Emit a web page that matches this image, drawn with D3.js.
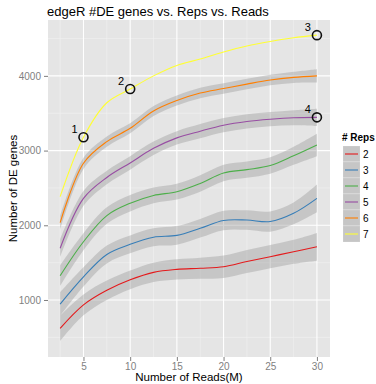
<!DOCTYPE html>
<html><head><meta charset="utf-8">
<script src="https://cdn.jsdelivr.net/npm/d3@7"></script>
<style>body{margin:0;background:#fff}svg{display:block}text{font-family:"Liberation Sans",Arial,sans-serif}</style>
</head><body>
<svg id="c" width="376" height="384"></svg>
<script>
const reads = [2.5, 5, 7.5, 10, 12.5, 15, 17.5, 20, 22.5, 25, 27.5, 30];
const reps = ["2", "3", "4", "5", "6", "7"];
const rep2 = [621, 935, 1130, 1270, 1370, 1410, 1425, 1445, 1515, 1580, 1645, 1712];
const rep3 = [946, 1310, 1610, 1745, 1840, 1865, 1960, 2065, 2070, 2050, 2160, 2360];
const rep4 = [1325, 1780, 2130, 2295, 2400, 2450, 2560, 2700, 2745, 2800, 2930, 3075];
const rep5 = [1692, 2360, 2640, 2835, 3030, 3170, 3260, 3340, 3390, 3420, 3440, 3445];
const rep6 = [2035, 2830, 3120, 3298, 3530, 3670, 3770, 3830, 3890, 3945, 3980, 4000];
const rep7 = [2383, 3178, 3640, 3824, 4000, 4140, 4225, 4320, 4400, 4460, 4510, 4545];
const se2 = [170, 140, 130, 125, 130, 135, 140, 150, 155, 155, 160, 185];
const se3 = [160, 130, 120, 120, 120, 125, 125, 130, 130, 135, 145, 185];
const se4 = [140, 115, 110, 110, 105, 105, 110, 110, 110, 110, 120, 150];
const se5 = [120, 100, 90, 90, 90, 90, 95, 95, 95, 95, 100, 115];
const se6 = [90, 75, 70, 67, 67, 67, 70, 70, 70, 70, 75, 90];
const se7 = [0, 0, 0, 0, 0, 0, 0, 0, 0, 0, 0, 0];
const yTicks = [1000, 2000, 3000, 4000];
const yMinor = [500, 1500, 2500, 3500, 4500];
const xTicks = [5, 10, 15, 20, 25, 30];
const xMinor = [2.5, 7.5, 12.5, 17.5, 22.5, 27.5];
const marks = [{label: "1", x: 5, rep: "7"}, {label: "2", x: 10, rep: "7"}, {label: "3", x: 30, rep: "7"}, {label: "4", x: 30, rep: "5"}];
const colors = ["#e41a1c", "#377eb8", "#4daf4a", "#984ea3", "#ff7f00", "#ffff33"];

const vals = [rep2, rep3, rep4, rep5, rep6, rep7];
const ses = [se2, se3, se4, se5, se6, se7];
const series = reps.map((r, i) => ({rep: r, color: colors[i],
  pts: reads.map((x, j) => ({x, y: vals[i][j], se: ses[i][j]}))}));

const svg = d3.select("#c");
const L = 48, R = 330, T = 20, B = 357;
const x = d3.scaleLinear().domain([1.2, 31.4]).range([L, R]);
const y = d3.scaleLinear().domain([237, 4748]).range([B, T]);

svg.append("text").attr("x", 47).attr("y", 16).attr("font-size", 13).attr("fill", "#000")
  .text("edgeR #DE genes vs. Reps vs. Reads");

svg.append("rect").attr("x", L).attr("y", T).attr("width", R - L).attr("height", B - T).attr("fill", "#e5e5e5");
const g = svg.append("g");
g.selectAll(".ymin").data(yMinor).join("line").attr("x1", L).attr("x2", R)
  .attr("y1", d => y(d)).attr("y2", d => y(d)).attr("stroke", "#f2f2f2").attr("stroke-width", 0.6);
g.selectAll(".xmin").data(xMinor).join("line").attr("y1", T).attr("y2", B)
  .attr("x1", d => x(d)).attr("x2", d => x(d)).attr("stroke", "#f2f2f2").attr("stroke-width", 0.6);
g.selectAll(".ymaj").data(yTicks).join("line").attr("x1", L).attr("x2", R)
  .attr("y1", d => y(d)).attr("y2", d => y(d)).attr("stroke", "#fff").attr("stroke-width", 1.1);
g.selectAll(".xmaj").data(xTicks).join("line").attr("y1", T).attr("y2", B)
  .attr("x1", d => x(d)).attr("x2", d => x(d)).attr("stroke", "#fff").attr("stroke-width", 1.1);

const curve = d3.curveCatmullRom.alpha(0.5);
const area = d3.area().x(d => x(d.x)).y0(d => y(d.y - d.se)).y1(d => y(d.y + d.se)).curve(curve);
const line = d3.line().x(d => x(d.x)).y(d => y(d.y)).curve(curve);
const plot = svg.append("g");
series.forEach(s => {
  if (d3.max(s.pts, d => d.se) > 0)
    plot.append("path").attr("d", area(s.pts)).attr("fill", "#999").attr("fill-opacity", 0.4);
});
series.forEach(s => {
  plot.append("path").attr("d", line(s.pts)).attr("fill", "none").attr("stroke", s.color).attr("stroke-width", 1.1);
});

marks.forEach(m => {
  const s = series.find(d => d.rep === m.rep);
  const v = s.pts.find(p => p.x === m.x).y;
  const cx = x(m.x), cy = y(v);
  plot.append("circle").attr("cx", cx).attr("cy", cy).attr("r", 4.5).attr("fill", "none")
    .attr("stroke", "#111").attr("stroke-width", 1.6);
  plot.append("text").attr("x", cx - 9).attr("y", cy - 4).attr("text-anchor", "middle")
    .attr("font-size", 11).attr("fill", "#000").text(m.label);
});

// axes
const ya = svg.append("g").attr("transform", `translate(${L},0)`)
  .call(d3.axisLeft(y).tickValues(yTicks).tickSize(4).tickPadding(3).tickFormat(d3.format("d")));
const xa = svg.append("g").attr("transform", `translate(0,${B})`)
  .call(d3.axisBottom(x).tickValues(xTicks).tickSize(4).tickPadding(2));
[ya, xa].forEach(a => {
  a.select(".domain").remove();
  a.selectAll("line").attr("stroke", "#7f7f7f");
  a.selectAll("text").attr("fill", "#7f7f7f").attr("font-size", 10).attr("font-family", '"Liberation Sans",Arial,sans-serif');
});

svg.append("text").attr("transform", `translate(17,${(T + B) / 2}) rotate(-90)`).attr("text-anchor", "middle")
  .attr("font-size", 11.5).text("Number of DE genes");
svg.append("text").attr("x", (L + R) / 2).attr("y", 381).attr("text-anchor", "middle")
  .attr("font-size", 11.5).text("Number of Reads(M)");

// legend
const lg = svg.append("g").attr("transform", "translate(343,146)");
lg.append("text").attr("x", -1).attr("y", -5).attr("font-size", 10).attr("font-weight", "bold").text("# Reps");
series.forEach((s, i) => {
  const k = lg.append("g").attr("transform", `translate(0,${i * 16})`);
  k.append("rect").attr("width", 17).attr("height", 16).attr("fill", "#e5e5e5").attr("stroke", "#fff").attr("stroke-width", 0.5);
  k.append("rect").attr("width", 17).attr("height", 16).attr("fill", "#999").attr("fill-opacity", 0.4);
  k.append("line").attr("x1", 2).attr("x2", 15).attr("y1", 8).attr("y2", 8).attr("stroke", s.color).attr("stroke-width", 1.1);
  k.append("text").attr("x", 20).attr("y", 12).attr("font-size", 10).text(s.rep);
});
</script>
</body></html>
